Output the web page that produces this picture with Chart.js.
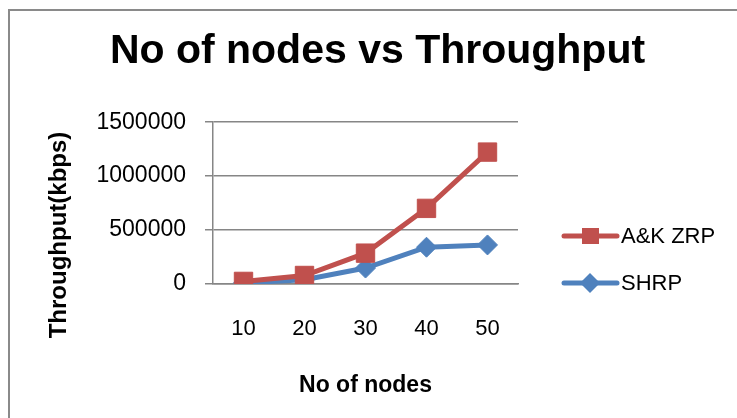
<!DOCTYPE html>
<html>
<head>
<meta charset="utf-8">
<script src="https://cdn.jsdelivr.net/npm/chart.js@4"></script>
<style>
  html, body { margin: 0; padding: 0; background: #fff; }
  #wrap { position: relative; width: 737px; height: 418px; overflow: hidden; }
  #frame { position: absolute; left: 8px; top: 9px; width: 760px; height: 440px; border: 2px solid #8a8a8a; box-sizing: border-box; pointer-events: none; }
  canvas { position: absolute; left: 0; top: 0; }
</style>
</head>
<body>
<div id="wrap">
  <canvas id="c" width="737" height="418"></canvas>
  <div id="frame"></div>
</div>
<script>
const categories = ['10', '20', '30', '40', '50'];
const akZrp = [24000, 79000, 286000, 701000, 1223000];
const shrp = [10000, 40000, 148000, 341000, 362000];
const yTicks = [0, 500000, 1000000, 1500000];
const chartTitle = 'No of nodes vs Throughput';
const xTitle = 'No of nodes';
const yTitle = 'Throughput(kbps)';

const FONT = '"Liberation Sans Narrow", "Arial Narrow", "Liberation Sans", Arial, sans-serif';
const RED = '#C0504D';
const BLUE = '#4F81BD';
const GRID = '#868686';

const yTitlePlugin = {
  id: 'yTitle',
  afterDraw(chart) {
    const ctx = chart.ctx;
    ctx.save();
    ctx.translate(59, 235);
    ctx.rotate(-Math.PI / 2);
    ctx.font = 'bold 24px ' + FONT;
    ctx.fillStyle = '#000';
    ctx.textAlign = 'center';
    ctx.textBaseline = 'middle';
    ctx.fillText(yTitle, 0, 0);
    ctx.restore();
  }
};

const legendPlugin = {
  id: 'sideLegend',
  afterDraw(chart) {
    const ctx = chart.ctx;
    const rows = [236, 283];
    chart.data.datasets.forEach((ds, i) => {
      const y = rows[i];
      ctx.save();
      ctx.strokeStyle = ds.borderColor;
      ctx.lineWidth = 5;
      ctx.lineCap = 'round';
      ctx.beginPath();
      ctx.moveTo(564, y);
      ctx.lineTo(617, y);
      ctx.stroke();
      ctx.fillStyle = ds.pointBackgroundColor;
      ctx.beginPath();
      if (ds.pointStyle === 'rect') {
        ctx.rect(582, y - 8, 17, 16);
      } else {
        ctx.moveTo(590, y - 10); ctx.lineTo(600, y); ctx.lineTo(590, y + 10); ctx.lineTo(580, y); ctx.closePath();
      }
      ctx.fill();
      ctx.font = '22px ' + FONT;
      ctx.fillStyle = '#000';
      ctx.textAlign = 'left';
      ctx.textBaseline = 'middle';
      ctx.fillText(ds.label, 621, y + 1);
      ctx.restore();
    });
  }
};

new Chart(document.getElementById('c'), {
  type: 'line',
  data: {
    labels: categories,
    datasets: [
      {
        label: 'A&K ZRP',
        data: akZrp,
        borderColor: RED,
        backgroundColor: RED,
        pointBackgroundColor: RED,
        pointBorderColor: RED,
        borderWidth: 5,
        pointStyle: 'rect',
        pointRadius: 13,
        pointBorderWidth: 1,
        tension: 0
      },
      {
        label: 'SHRP',
        data: shrp,
        borderColor: BLUE,
        backgroundColor: BLUE,
        pointBackgroundColor: BLUE,
        pointBorderColor: BLUE,
        borderWidth: 5,
        pointStyle: 'rectRot',
        pointRadius: 10,
        pointBorderWidth: 1,
        tension: 0
      }
    ]
  },
  options: {
    responsive: false,
    animation: false,
    devicePixelRatio: 1,
    layout: { padding: { left: 18, right: 0, top: 0, bottom: 0 } },
    plugins: {
      legend: { display: false },
      tooltip: { enabled: false },
      title: {
        display: true,
        text: chartTitle,
        color: '#000',
        font: { family: FONT, size: 41, weight: 'bold', lineHeight: 1.2 },
        padding: { top: 27, bottom: 46 }
      }
    },
    scales: {
      x: {
        offset: true,
        grid: { display: false, drawTicks: false, offset: true },
        border: { display: true, color: GRID, width: 1.5 },
        ticks: { color: '#000', font: { family: FONT, size: 22 }, padding: 32, maxRotation: 0 },
        title: {
          display: true,
          text: xTitle,
          color: '#000',
          font: { family: FONT, size: 23, weight: 'bold', lineHeight: 1.2 },
          padding: { top: 0, bottom: 19 }
        },
        afterFit(scale) { scale.height = 134; }
      },
      y: {
        min: 0,
        max: 1500000,
        afterBuildTicks(scale) { scale.ticks = yTicks.map(v => ({ value: v })); },
        grid: { color: GRID, lineWidth: 1.5, tickLength: 8, drawTicks: true },
        border: { display: true, color: GRID, width: 1.5 },
        ticks: { color: '#000', font: { family: FONT, size: 23 }, padding: 19, callback: v => String(v) },
        afterFit(scale) { scale.width = 195; }
      },
      legendSpace: {
        type: 'linear',
        position: 'right',
        display: true,
        grid: { display: false, drawTicks: false },
        border: { display: false },
        ticks: { display: false },
        afterFit(scale) { scale.width = 219; }
      }
    }
  },
  plugins: [yTitlePlugin, legendPlugin]
});
</script>
</body>
</html>
